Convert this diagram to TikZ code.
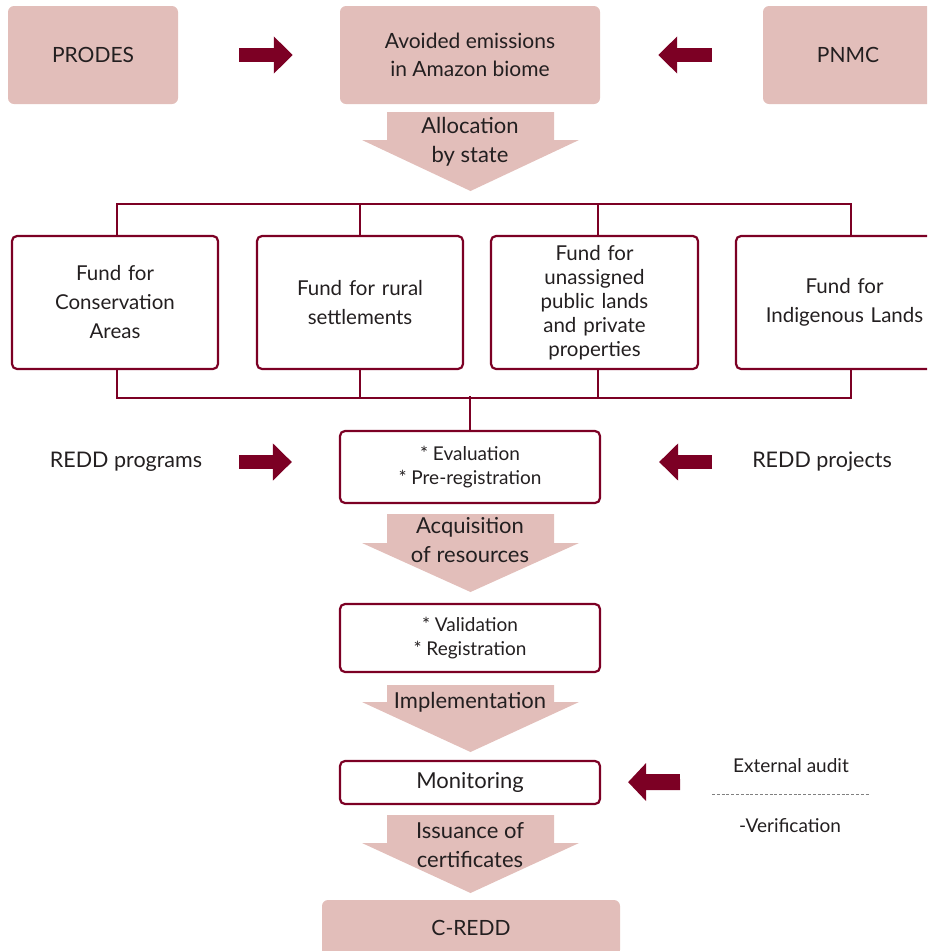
\documentclass[tikz,border=0pt]{standalone}
\usepackage{fontspec}
\setmainfont{Lato}
\usepackage{xcolor}
\usepackage{tikz}
\usetikzlibrary{arrows.meta, positioning}

\definecolor{wine}{RGB}{124,0,36}
\definecolor{blush}{RGB}{226,190,186}
\definecolor{ink}{RGB}{35,31,32}

% big pink flow arrow: shaft top, head base, tip (y in px)
\newcommand{\fatarrow}[3]{%
  \fill[blush] (387,#1) -- (554,#1) -- (554,#2) -- (579,#2) -- (470.5,#3) -- (362,#2) -- (387,#2) -- cycle;}

\begin{document}
\begin{tikzpicture}[x=1pt, y=-1pt, text=ink,
    source/.style={fill=blush, rounded corners=6pt, minimum width=170pt, minimum height=98pt, align=center, font=\fontsize{21}{29}\selectfont},
    fund/.style={draw=wine, line width=2.2pt, rounded corners=5pt, minimum width=206pt, minimum height=133pt, text width=198pt, align=center, font=\fontsize{20.5}{29}\selectfont},
    stepbox/.style={draw=wine, line width=2.2pt, rounded corners=5pt, minimum width=260pt, align=center, font=\fontsize{19}{24}\selectfont},
    flowlabel/.style={align=center, font=\fontsize{22}{29}\selectfont},
    side/.style={font=\fontsize{21.5}{24}\selectfont},
    note/.style={font=\fontsize{19}{22}\selectfont},
    bus/.style={draw=wine, line width=2.2pt},
    push/.style={draw=wine, line width=14pt, -{Triangle[length=19pt, width=36pt]}}]

    \useasboundingbox (0,0) rectangle (927,951);
    \clip (0,0) rectangle (927,951);

    % Flow arrows
    \fatarrow{112}{140}{191}
    \fatarrow{514}{543}{592}
    \fatarrow{685}{702}{752}
    \fatarrow{815}{843}{893}

    % Nodes
    \node (prodes) [source] at (93,55) {PRODES};
    \node (avoided) [source, minimum width=260pt] at (470,55) {Avoided emissions\\[-1pt]in Amazon biome};
    \node (pnmc) [source] at (848,55) {PNMC};
    \node (alloc) [flowlabel] at (470,142) {Allocation\\by state};

    \node (fund1) [fund] at (115,302.5) {Fund for\\Conservation\\Areas};
    \node (fund2) [fund] at (360,302.5) {Fund for rural\\settlements};
    \node (fund3) [fund, minimum width=207pt, font=\fontsize{20.5}{24}\selectfont] at (594.5,302.5) {Fund for\\unassigned\\public lands\\and private\\properties};
    \node (fund4) [fund, minimum width=217pt] at (844.5,302.5) {Fund for\\Indigenous Lands};

    \node (eval) [stepbox, minimum height=72pt] at (470,467) {* Evaluation\\* Pre-registration};
    \node (prog) [side] at (126,462) {REDD programs};
    \node (proj) [side] at (822,462) {REDD projects};
    \node (acq) [flowlabel] at (470,540) {Acquisition\\of resources};

    \node (valid) [stepbox, minimum height=68pt] at (470,638) {* Validation\\* Registration};
    \node (impl) [flowlabel] at (470,702) {Implementation};

    \node (monitor) [stepbox, minimum height=43pt, font=\fontsize{22}{24}\selectfont] at (470,782.5) {Monitoring};
    \node (audit) [note] at (791,766) {External audit};
    \node (verif) [note] at (790,826) {-Verification};
    \draw[gray, line width=0.8pt, dash pattern=on 3pt off 1.8pt] (712,794) -- (870,794);
    \node (issue) [flowlabel] at (470,845) {Issuance of\\certificates};

    \node (credd) [source, minimum width=298pt, minimum height=56pt] at (471,928) {C-REDD};

    \coordinate (progtail) at (239,462);
    \coordinate (projtail) at (712,462);
    \coordinate (audittail) at (680,782);

    % Links
    \draw[push, shorten <=61pt, shorten >=47pt] (prodes) -- (avoided);
    \draw[push, shorten <=51pt, shorten >=58pt] (pnmc) -- (avoided);
    \draw[push, shorten >=47pt] (progtail) -- (progtail -| eval.west);
    \draw[push, shorten >=58pt] (projtail) -- (projtail -| eval.east);
    \draw[push, line width=16pt, -{Triangle[length=18pt, width=37pt]}, shorten >=27pt] (audittail) -- (monitor);

    \draw[bus] ([xshift=2pt]fund1.north) -- ++(0,-31) -| ([xshift=6.5pt]fund4.north);
    \draw[bus] (fund2.north) -- ++(0,-31);
    \draw[bus] ([xshift=3.5pt]fund3.north) -- ++(0,-31);
    \draw[bus] ([xshift=2pt]fund1.south) -- ++(0,28) -| ([xshift=6.5pt]fund4.south);
    \draw[bus] (fund2.south) -- ++(0,28);
    \draw[bus] ([xshift=3.5pt]fund3.south) -- ++(0,28);
    \draw[bus] (eval.north) -- ++(0,-34);
\end{tikzpicture}
\end{document}
